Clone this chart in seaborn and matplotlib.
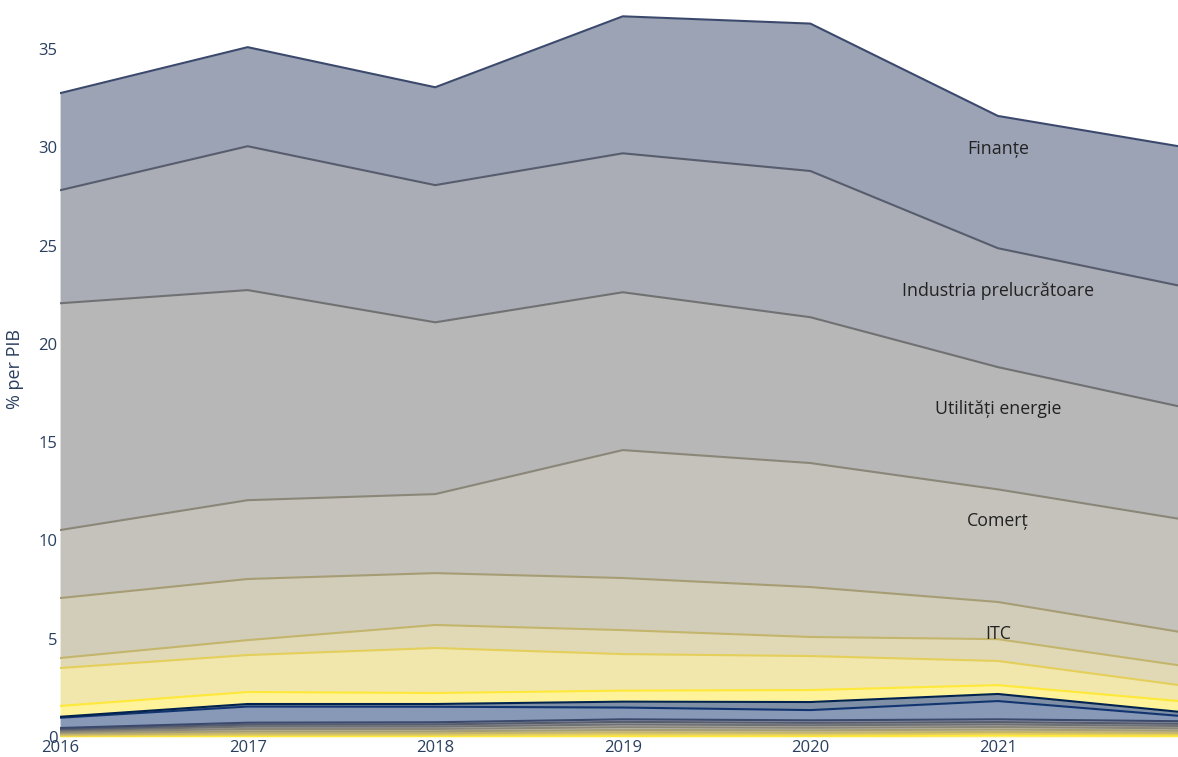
import pandas as pd
import matplotlib
matplotlib.use("Agg")
import matplotlib.pyplot as plt
import seaborn as sns

# ---------- data (% of GDP, bottom of the stack first) ----------
years = [2016, 2017, 2018, 2019, 2020, 2021, 2022]

minerit = [0.03, 0.03, 0.03, 0.04, 0.04, 0.08, 0.05]
agricultura = [0.05, 0.08, 0.08, 0.10, 0.09, 0.09, 0.08]
apa = [0.05, 0.08, 0.08, 0.10, 0.09, 0.09, 0.08]
sanatate = [0.07, 0.10, 0.10, 0.12, 0.12, 0.12, 0.11]
educatie = [0.07, 0.12, 0.12, 0.14, 0.13, 0.13, 0.12]
hoteluri = [0.07, 0.12, 0.12, 0.14, 0.13, 0.13, 0.12]
arta = [0.06, 0.10, 0.11, 0.13, 0.12, 0.12, 0.11]
administratie = [0.06, 0.10, 0.11, 0.13, 0.13, 0.14, 0.13]
constructii = [0.52, 0.82, 0.79, 0.60, 0.52, 0.93, 0.25]
transport = [0.05, 0.13, 0.14, 0.30, 0.41, 0.36, 0.20]
servicii = [0.55, 0.61, 0.56, 0.56, 0.61, 0.45, 0.55]
imobiliare = [1.93, 1.88, 2.29, 1.86, 1.73, 1.23, 0.80]
profesionale = [0.51, 0.76, 1.17, 1.22, 0.97, 1.11, 1.00]
itc = [3.05, 3.11, 2.64, 2.65, 2.54, 1.89, 1.70]
comert = [3.46, 4.01, 4.02, 6.51, 6.31, 5.73, 5.75]
utilitati = [11.54, 10.69, 8.74, 8.03, 7.42, 6.22, 5.70]
industria = [5.75, 7.32, 6.98, 7.07, 7.44, 6.05, 6.15]
finante = [4.94, 5.04, 4.98, 6.97, 7.50, 6.73, 7.10]

sectors = [
    ("Minerit", minerit),
    ("Agricultură", agricultura),
    ("Apă", apa),
    ("Sănătate", sanatate),
    ("Educație", educatie),
    ("Hoteluri și restaurante", hoteluri),
    ("Artă", arta),
    ("Administrație", administratie),
    ("Construcții", constructii),
    ("Transport", transport),
    ("Alte servicii", servicii),
    ("Imobiliare", imobiliare),
    ("Servicii profesionale", profesionale),
    ("ITC", itc),
    ("Comerț", comert),
    ("Utilități energie", utilitati),
    ("Industria prelucrătoare", industria),
    ("Finanțe", finante),
]
labelled = ["Finanțe", "Industria prelucrătoare", "Utilități energie", "Comerț", "ITC"]
label_y = [29.9, 22.7, 16.7, 11.0, 5.25]

# cividis, reversed, cycled over the traces
cividis_r = ["#fee838", "#e4cf5b", "#c4b56c", "#a69d75", "#8a8779",
             "#707173", "#575d6d", "#3b496c", "#123570", "#00224e"]


def main():
    sns.set_theme(style="white")
    plt.rcParams["font.family"] = ["Open Sans", "DejaVu Sans"]

    df = pd.DataFrame({name: vals for name, vals in sectors}, index=years)
    cum = df.cumsum(axis=1)

    fig = plt.figure(figsize=(11.78, 7.57), dpi=100)
    ax = fig.add_axes([0.051, 0.0264, 0.949, 0.9736])

    prev = pd.Series(0.0, index=years)
    for i, (name, _) in enumerate(sectors):
        col = cividis_r[i % len(cividis_r)]
        top = cum[name]
        ax.fill_between(years, prev, top, color=col, alpha=0.5, linewidth=0)
        sns.lineplot(x=years, y=top.values, color=col, linewidth=1.5, ax=ax)
        prev = top

    for name, y in zip(labelled, label_y):
        ax.text(2021, y, name, ha="center", va="center", fontsize=12.8, color="#222222")

    ax.set_xlim(2016, 2021.96)
    ax.set_ylim(0, 37.5)
    ax.set_xticks([2016, 2017, 2018, 2019, 2020, 2021])
    ax.set_yticks([0, 5, 10, 15, 20, 25, 30, 35])
    ax.tick_params(axis="both", labelsize=12, colors="#2a3f5f", length=0, pad=2)
    ax.set_ylabel("% per PIB", fontsize=13, color="#2a3f5f", labelpad=10)
    for s in ax.spines.values():
        s.set_visible(False)

    fig.savefig("out.png", dpi=100)


if __name__ == "__main__":
    main()
